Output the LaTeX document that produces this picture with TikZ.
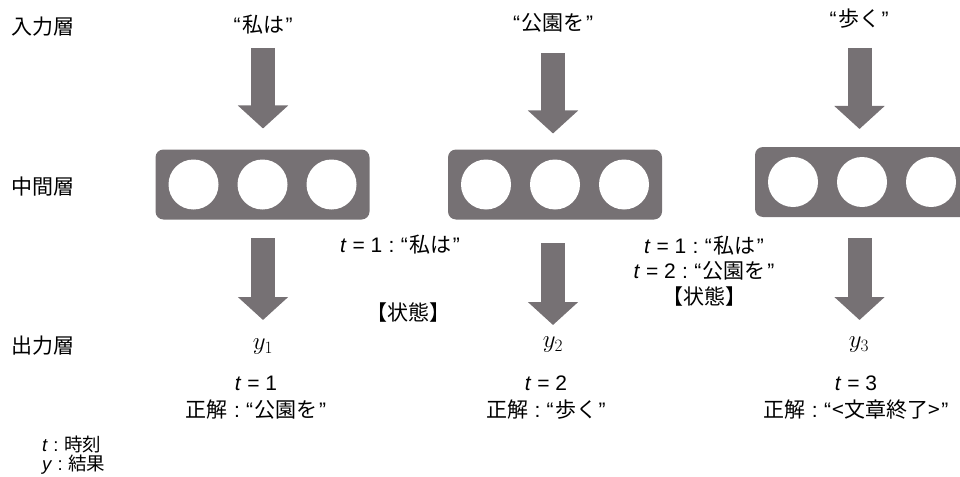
\documentclass[tikz,border=0pt]{standalone}
\usepackage[no-math]{fontspec}
\setmainfont{Noto Sans CJK JP}
\newfontfamily\lat{Liberation Sans}
\usetikzlibrary{arrows.meta}
\definecolor{gr}{RGB}{118,113,116}
\newcommand\qo{{\lat “}\hspace{1.5pt}}
\newcommand\qc{\hspace{1.5pt}{\lat ”}}
\newcommand\cln{{\lat\hspace{0.3em}:\hspace{0.3em}}}
\newcommand\teq[1]{{\lat\textit{t} = #1}}
\begin{document}
\begin{tikzpicture}[x=1pt,y=-1pt,
  font=\fontsize{21}{26}\selectfont,
  every node/.style={inner sep=0pt, outer sep=0pt},
  layer/.style={anchor=west, font=\fontsize{21}{26}\selectfont},
  hid/.style={fill=gr, rounded corners=8pt, minimum width=214pt, minimum height=70pt},
  unit/.style={circle, fill=white, minimum size=50pt},
  blk/.style={gr, line width=24pt, -{Triangle[width=49pt,length=23pt]}},
  ylab/.style={font=\fontsize{24}{26}\selectfont},
  ans/.style={align=center, font=\fontsize{21}{27}\selectfont},
  legend/.style={anchor=west, font=\fontsize{18.5}{21}\selectfont}]
\useasboundingbox (0,0) rectangle (960,476);
\clip (0,0) rectangle (960,476);

% layer labels
\node[layer] (Lin) at (11,27) {入力層};
\node[layer] (Lmid) at (11,187) {中間層};
\node[layer] (Lout) at (11,346) {出力層};

% input words
\node (w1) at (263,25) {\qo 私は\qc};
\node (w2) at (553,23) {\qo 公園を\qc};
\node (w3) at (859,19) {\qo 歩く\qc};

% hidden layers
\node[hid] (h1) at (262.5,184.5) {};
\node[hid] (h2) at (555,184.5) {};
\node[hid] (h3) at (862,182) {};
\foreach \h in {h1,h2,h3}{
  \node[unit] (\h a) at ([xshift=-69pt]\h.center) {};
  \node[unit] (\h b) at (\h.center) {};
  \node[unit] (\h c) at ([xshift=69pt]\h.center) {};
}

% top arrows
\coordinate (a1s) at (263,48);
\coordinate (a2s) at (553,53);
\coordinate (a3s) at (859.5,48);
\draw[blk, shorten >=21pt] (a1s) -- (a1s |- h1.north);
\draw[blk, shorten >=16pt] (a2s) -- (a2s |- h2.north);
\draw[blk, shorten >=18pt] (a3s) -- (a3s |- h3.north);

% outputs
\node[ylab] (y1) at (263,347) {$y_1$};
\node[ylab] (y2) at (553,345) {$y_2$};
\node[ylab] (y3) at (859,345) {$y_3$};

% bottom arrows
\coordinate (b1s) at (263,238);
\coordinate (b2s) at (553,243);
\coordinate (b3s) at (859.5,238);
\draw[blk, shorten >=27pt] (b1s) -- (b1s |- y1.center);
\draw[blk, shorten >=20pt] (b2s) -- (b2s |- y2.center);
\draw[blk, shorten >=25pt] (b3s) -- (b3s |- y3.center);

% answers
\node[ans] (c1) at (256,398) {\teq{1}\\正解\cln\qo 公園を\qc};
\node[ans] (c2) at (546,398) {\teq{2}\\正解\cln\qo 歩く\qc};
\node[ans] (c3) at (856,398) {\teq{3}\\正解\cln\qo <文章終了>\qc};

% states
\node (s1a) at (400,245) {\teq{1}\cln\qo 私は\qc};
\node (s1b) at (408,313) {【状態】};
\node[align=center, font=\fontsize{21}{25.5}\selectfont] (s2) at (704,271) {\teq{1}\cln\qo 私は\qc\\\teq{2}\cln\qo 公園を\qc\\【状態】};

% legend
\node[legend] (lg1) at (42,444) {{\lat\textit{t}}\cln 時刻};
\node[legend] (lg2) at (42,465) {{\lat\textit{y}}\cln 結果};
\end{tikzpicture}
\end{document}
